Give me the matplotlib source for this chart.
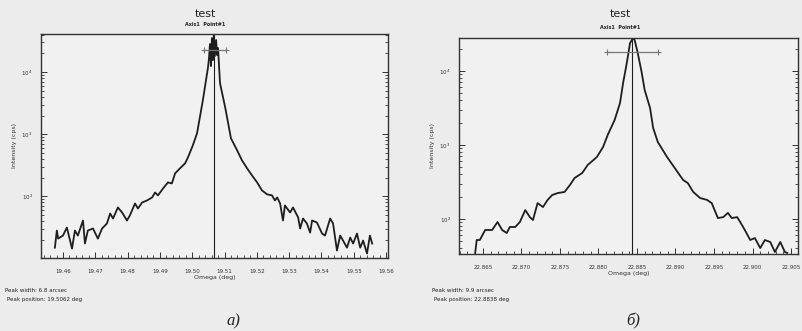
import numpy as np
import matplotlib.pyplot as plt
from matplotlib.ticker import LogLocator, MultipleLocator, FormatStrFormatter, NullFormatter

# a) scan around 19.5 deg
omega_a = [19.4575, 19.4581, 19.4585, 19.4600, 19.4612, 19.4622, 19.4628, 19.4637, 19.4646,
           19.4662, 19.4668, 19.4677, 19.4693, 19.4708, 19.4721, 19.4736, 19.4746, 19.4755,
           19.4770, 19.4783, 19.4798, 19.4807, 19.4823, 19.4832, 19.4845, 19.4860, 19.4876,
           19.4885, 19.4894, 19.4910, 19.4925, 19.4937, 19.4947, 19.4962, 19.4978, 19.4987,
           19.5002, 19.5015, 19.5033, 19.5049, 19.5052, 19.5055, 19.5058, 19.5061, 19.5064,
           19.5067, 19.5070, 19.5074, 19.5077, 19.5080, 19.5086, 19.5102, 19.5117, 19.5120,
           19.5139, 19.5154, 19.5170, 19.5185, 19.5201, 19.5216, 19.5232, 19.5247, 19.5256,
           19.5263, 19.5272, 19.5281, 19.5287, 19.5303, 19.5312, 19.5328, 19.5334, 19.5343,
           19.5355, 19.5365, 19.5371, 19.5386, 19.5402, 19.5411, 19.5427, 19.5436, 19.5448,
           19.5458, 19.5467, 19.5479, 19.5489, 19.5498, 19.5510, 19.5520, 19.5529, 19.5541,
           19.5550, 19.5557]
counts_a = [15.0, 28.3, 21.0, 23.5, 31.6, 19.5, 14.5, 28.3, 23.5,
            41.0, 17.5, 28.3, 30.5, 21.0, 30.5, 36.7, 53.2, 44.2,
            66.5, 55.2, 41.0, 49.4, 77.1, 64.0, 80.0, 86.1, 96.4,
            116, 104, 135, 168, 162, 235, 283, 341, 426,
            665, 1040, 3530, 12000, 16800, 28300, 12500, 35300, 15600,
            41000, 18100, 32800, 18800, 24400, 6650, 2720, 1040, 861,
            552, 381, 283, 218, 168, 125, 108, 104, 86.1,
            96.4, 77.1, 41.0, 71.6, 55.2, 66.5, 45.8, 30.5, 44.2,
            36.7, 26.2, 41.0, 38.1, 25.3, 23.5, 44.2, 36.7, 13.5,
            23.5, 19.5, 15.0, 21.8, 17.5, 25.3, 15.0, 19.5, 12.1,
            23.5, 17.5]

# b) scan around 22.88 deg
omega_b = [22.8640, 22.8642, 22.8646, 22.8653, 22.8662, 22.8669, 22.8675, 22.8681, 22.8685,
           22.8692, 22.8698, 22.8705, 22.8711, 22.8715, 22.8721, 22.8728, 22.8734, 22.8740,
           22.8747, 22.8756, 22.8763, 22.8769, 22.8779, 22.8786, 22.8798, 22.8806, 22.8812,
           22.8821, 22.8828, 22.8832, 22.8837, 22.8841, 22.8845, 22.8847, 22.8851, 22.8856,
           22.8860, 22.8867, 22.8871, 22.8877, 22.8889, 22.8899, 22.8910, 22.8916, 22.8923,
           22.8932, 22.8941, 22.8947, 22.8955, 22.8962, 22.8968, 22.8973, 22.8980, 22.8984,
           22.8990, 22.8997, 22.9003, 22.9010, 22.9016, 22.9023, 22.9029, 22.9036, 22.9042,
           22.9045]
counts_b = [34.8, 52.0, 52.0, 71.0, 71.0, 91.0, 71.0, 64.7, 78.0,
            78.0, 91.0, 132, 106, 96.9, 164, 145, 181, 211,
            224, 232, 288, 358, 419, 537, 689, 940, 1365,
            2178, 3696, 6880, 13240, 23900, 27900, 26200, 17500, 9690,
            5540, 3160, 1698, 1099, 689, 489, 336, 306, 232,
            192, 181, 164, 103, 106, 121, 103, 106, 91.0,
            71.0, 52.0, 55.3, 40.5, 52.0, 48.9, 35.8, 48.9, 35.8,
            34.8]

peak_pos = [19.5066, 22.8843]
fwhm_x = [(19.5037, 19.5105), (22.8811, 22.8877)]
fwhm_y = [22700, 18000]
xlims = [(19.4532, 19.5606), (22.8619, 22.9059)]
ylims = [(10**1.01, 10**4.613), (10**1.527, 10**4.446)]
x_major = [0.01, 0.005]
x_minor = [0.002, 0.001]
x_fmt = ['%.2f', '%.3f']
peak_text = [("Peak width: 6.8 arcsec", "Peak position: 19.5062 deg"),
             ("Peak width: 9.9 arcsec", "Peak position: 22.8838 deg")]
captions = ["а)", "б)"]

W, H = 803, 331
bg = '#ececec'
ink = '#1e1e1e'

fig = plt.figure(figsize=(W / 100, H / 100), dpi=100, facecolor=bg)

# axes boxes in pixels: left, top, right, bottom
boxes = [(41, 34, 388, 258), (459, 38, 798, 254)]
title_x = [205, 620]
data = [(omega_a, counts_a), (omega_b, counts_b)]

for i, (l, t, r, b) in enumerate(boxes):
    ax = fig.add_axes([l / W, 1 - b / H, (r - l) / W, (b - t) / H])
    ax.set_facecolor('#f1f1f1')
    x, y = data[i]
    ax.plot(x, y, color=ink, lw=1.3)
    ax.set_yscale('log')
    ax.set_xlim(*xlims[i])
    ax.set_ylim(*ylims[i])
    ax.axvline(peak_pos[i], color=ink, lw=0.8)
    ax.plot(fwhm_x[i], [fwhm_y[i]] * 2, color='#777777', lw=0.9, marker='+', ms=5, mew=0.8)

    ax.xaxis.set_major_locator(MultipleLocator(x_major[i]))
    ax.xaxis.set_minor_locator(MultipleLocator(x_minor[i]))
    ax.xaxis.set_major_formatter(FormatStrFormatter(x_fmt[i]))
    ax.yaxis.set_major_locator(LogLocator(base=10))
    ax.yaxis.set_minor_locator(LogLocator(base=10, subs=np.arange(2, 10)))
    ax.yaxis.set_minor_formatter(NullFormatter())
    ax.tick_params(which='both', direction='in', top=False, right=True, colors='#333333',
                   labelsize=4, labelcolor='#333333')
    ax.tick_params(which='major', length=4, width=0.7)
    ax.tick_params(axis='x', which='major', pad=8)
    ax.tick_params(axis='y', which='major', pad=6)
    ax.tick_params(which='minor', length=2.5, width=0.6)
    for s in ax.spines.values():
        s.set_color('#333333')
        s.set_linewidth(1.0)

    ax.set_xlabel("Omega (deg)", fontsize=4.5, color='#333333', labelpad=1)
    ax.set_ylabel("Intensity (cps)", fontsize=4.5, color='#333333', labelpad=3)
    cx = (title_x[i] - l) / (r - l)
    ax.text(cx, 1 + (t - 14) / (b - t), "test", transform=ax.transAxes,
            ha='center', va='center', fontsize=8, color='#222222')
    ax.text(cx, 1 + (t - 25 - 2 * i) / (b - t), "Axis1  Point#1",
            transform=ax.transAxes, ha='center', va='center', fontsize=3.5,
            color='#222222', fontweight='bold')

    tx = [5, 432][i]
    fig.text(tx / W, 1 - 290 / H, peak_text[i][0], fontsize=4, color='#222222', va='center')
    fig.text((tx + 2) / W, 1 - 299 / H, peak_text[i][1], fontsize=4, color='#222222', va='center')
    fig.text([233, 633][i] / W, 1 - 321 / H, captions[i], fontsize=12, style='italic',
             family='Liberation Serif', color='#222222', ha='center', va='center')

fig.savefig('out.png', dpi=100, facecolor=bg)
